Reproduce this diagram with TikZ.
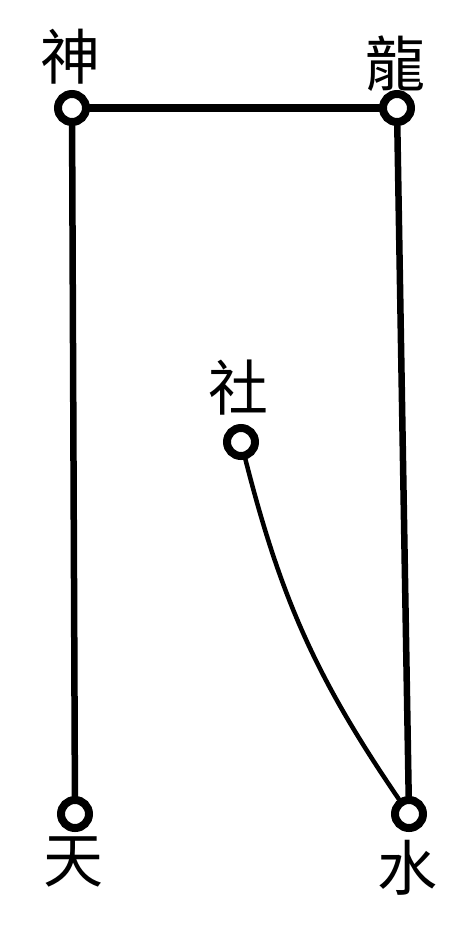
\documentclass[tikz,border=0pt]{standalone}
\usepackage{fontspec}
\newfontfamily\cjk{Noto Sans CJK TC}
\usetikzlibrary{positioning}

\begin{document}
\begin{tikzpicture}[
  x=1pt, y=-1pt,
  ring/.style={draw, circle, line width=8pt, minimum size=28pt, inner sep=0pt, fill=white},
  glyph/.style={font=\cjk\fontsize{60}{60}\selectfont, inner sep=0pt},
  rod/.style={line width=6.5pt, line cap=round}
]
\useasboundingbox (0,0) rectangle (473,930);

\node[glyph] (tshen) at (70,57) {神};
\node[glyph] (tlong) at (395,64) {龍};
\node[glyph] (tshe) at (238,388) {社};
\node[glyph] (ttian) at (73,862) {天};
\node[glyph] (tshui) at (407,868) {水};

\node[ring] (shen) at (72,108) {};
\node[ring] (long) at (397,108) {};
\node[ring] (she) at (241,442) {};
\node[ring] (tian) at (75,814) {};
\node[ring] (shui) at (409,814) {};

\draw[rod, line width=8pt] (shen) -- (long);
\draw[rod] (shen) -- (tian);
\draw[rod] (long) -- (shui);
\draw[rod, line width=4.5pt] (she) to[bend right=10] (shui);

\end{tikzpicture}
\end{document}
